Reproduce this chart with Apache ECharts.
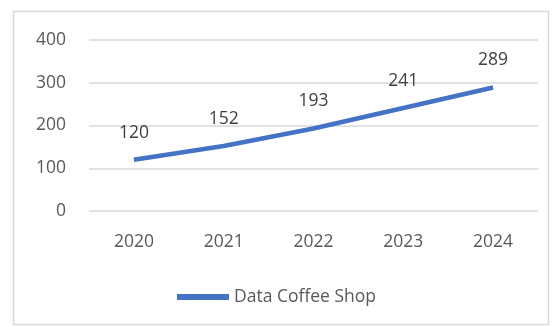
<!DOCTYPE html>
<html><head><meta charset="utf-8">
<script src="https://cdn.jsdelivr.net/npm/echarts@6/dist/echarts.min.js"></script>
<style>html,body{margin:0;padding:0;background:#fff}#c{width:553px;height:327px}</style>
</head><body><div id="c"></div>
<script>
var categories = ['2020','2021','2022','2023','2024'];
var values = [120,152,193,241,289];
var seriesName = 'Data Coffee Shop';
var chart = echarts.init(document.getElementById('c'));
var font = '"Open Sans", "Noto Sans", sans-serif';
chart.setOption({
  animation:false,
  graphic:[{type:'rect',shape:{x:13.5,y:11.5,width:535,height:313},style:{fill:'none',stroke:'#d9d9d9',lineWidth:1.5}}],
  grid:{left:89,right:15,top:40,bottom:116},
  legend:{bottom:16,left:'center',itemWidth:52,itemHeight:6,itemGap:8,
    icon:'rect',
    textStyle:{fontFamily:font,fontSize:17.5,color:'#595959'},
    data:[{name:seriesName}]},
  xAxis:{type:'category',data:categories,boundaryGap:true,
    axisLine:{show:false},axisTick:{show:false},
    axisLabel:{fontFamily:font,fontSize:17.5,color:'#595959',margin:22}},
  yAxis:{type:'value',min:0,max:400,interval:100,
    axisLine:{show:false},axisTick:{show:false},
    splitLine:{lineStyle:{color:'#d9d9d9',width:1.5}},
    axisLabel:{fontFamily:font,fontSize:17.5,color:'#595959',margin:23}},
  series:[{name:seriesName,type:'line',data:values,showSymbol:true,symbol:'circle',symbolSize:0,
    lineStyle:{color:'#4472C4',width:4.5},itemStyle:{color:'#4472C4'},
    label:{show:true,position:'top',distance:18,fontFamily:font,fontSize:17.5,color:'#404040'}}]
});
</script></body></html>
